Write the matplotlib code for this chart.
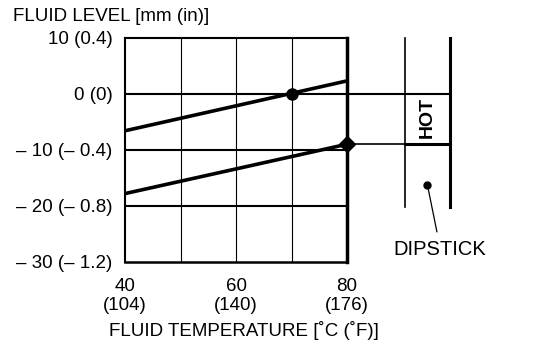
import matplotlib.pyplot as plt

plt.rcParams['font.family'] = ['Liberation Sans', 'DejaVu Sans']

# fluid level vs temperature
temps = [40, 80]
upper_level = [-6.6, 2.3]
lower_level = [-17.8, -9.0]
upper_mark = (70, 0)
lower_mark = (80, -9.0)

xticks = [40, 60, 80]
xlabels = ['40\n(104)', '60\n(140)', '80\n(176)']
yticks = [10, 0, -10, -20, -30]
ylabels = ['10 (0.4)', '0 (0)', '\u2013 10 (\u2013 0.4)', '\u2013 20 (\u2013 0.8)', '\u2013 30 (\u2013 1.2)']
xgrid = [50, 60, 70]
ygrid = [0, -10, -20]

# dipstick sketch (data coords)
stick_left, stick_right = 90.45, 98.55
stick_top, stick_bottom = 10, -20.2
stick_dot = (94.5, -16.3)
leader_end = (96.2, -24.6)

fig = plt.figure(figsize=(5.6, 3.5), dpi=100)
ax = fig.add_axes([125 / 560, 88 / 350, 222 / 560, 224.3 / 350])
ax.set_xlim(40, 80)
ax.set_ylim(-30, 10)

for x in xgrid:
    ax.axvline(x, color='black', lw=0.8)
for y in ygrid:
    ax.axhline(y, color='black', lw=1.5)

ax.plot(temps, upper_level, color='black', lw=2.6, solid_capstyle='butt')
ax.plot(temps, lower_level, color='black', lw=2.6, solid_capstyle='butt')
ax.plot(*upper_mark, 'o', color='black', ms=8)
ax.plot(*lower_mark, 'D', color='black', ms=8, clip_on=False, zorder=5)

# lines carried over to the dipstick
ax.plot([80, stick_right], [0, 0], color='black', lw=1.5, clip_on=False)
ax.plot([80, stick_left], [lower_mark[1]] * 2, color='black', lw=1.2, clip_on=False)
ax.plot([stick_left, stick_right], [lower_mark[1]] * 2, color='black', lw=2.2, clip_on=False)
ax.plot([stick_left] * 2, [stick_bottom, stick_top], color='black', lw=1.2, clip_on=False)
ax.plot([stick_right] * 2, [stick_bottom, stick_top], color='black', lw=2.2, clip_on=False)
ax.plot(*stick_dot, 'o', color='black', ms=5, clip_on=False)
ax.plot([stick_dot[0], leader_end[0]], [stick_dot[1], leader_end[1]],
        color='black', lw=0.9, clip_on=False)
ax.text((stick_left + stick_right) / 2, -4.3, 'HOT', rotation=90, fontsize=14,
        fontweight='bold', ha='center', va='center')
ax.text(96.8, -28.7, 'DIPSTICK', fontsize=14.5, ha='center', va='baseline')

ax.spines['left'].set_linewidth(1.5)
ax.spines['top'].set_linewidth(1.5)
ax.spines['bottom'].set_linewidth(1.8)
ax.spines['right'].set_linewidth(2.5)

ax.set_xticks(xticks)
ax.set_xticklabels(xlabels, fontsize=13.5, linespacing=1.15)
ax.set_yticks(yticks)
ax.set_yticklabels(ylabels, fontsize=13.5)
ax.tick_params(axis='x', length=0, pad=11.5)
ax.tick_params(axis='y', length=0, pad=9)

fig.text(13 / 560, 1 - 21 / 350, 'FLUID LEVEL [mm (in)]', fontsize=13.5, va='baseline')
fig.text(244 / 560, 14 / 350, 'FLUID TEMPERATURE [\u02daC (\u02daF)]', fontsize=13.5,
         ha='center', va='baseline')

fig.savefig('out.png', dpi=100)
